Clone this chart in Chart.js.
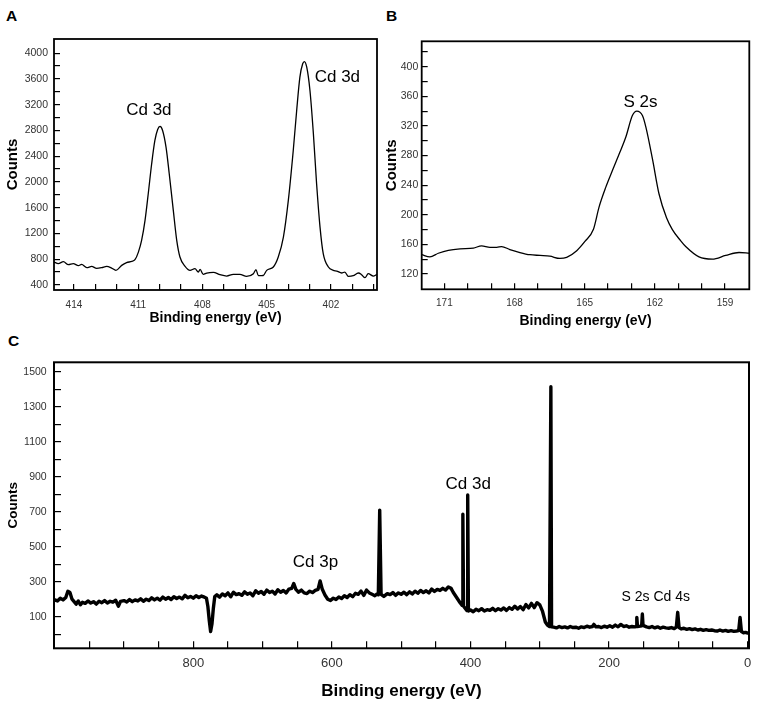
<!DOCTYPE html>
<html><head><meta charset="utf-8">
<script src="https://cdn.jsdelivr.net/npm/chart.js@4"></script>
<style>
body{margin:0;background:#fff;width:759px;height:708px;position:relative;overflow:hidden;font-family:"Liberation Sans",Arial,sans-serif}
canvas{position:absolute}
.lbl{position:absolute;font-weight:bold;font-size:15.5px;line-height:15.5px;color:#000}
</style></head><body>
<div class="lbl" style="left:6px;top:8px">A</div>
<div class="lbl" style="left:386px;top:8px">B</div>
<div class="lbl" style="left:8px;top:333px">C</div>
<canvas id="cA" width="380" height="330" style="left:0;top:0"></canvas>
<canvas id="cB" width="379" height="330" style="left:380px;top:0"></canvas>
<canvas id="cC" width="759" height="378" style="left:0;top:330px"></canvas>
<script>
// ---------- Panel A : Cd 3d high resolution ----------
const aEnergy = [414.93,414.73,414.49,414.26,414.03,413.79,413.64,413.40,413.17,412.94,412.70,412.47,412.24,412.04,411.77,411.54,411.30,411.15,410.99,410.84,
410.68,410.53,410.37,410.22,410.09,409.98,409.86,409.70,409.55,409.36,409.20,409.05,408.81,408.58,408.35,408.19,408.11,407.96,407.80,407.49,
407.18,406.87,406.56,406.25,405.94,405.62,405.50,405.39,405.16,405.00,404.69,404.46,404.22,403.99,403.76,403.60,403.45,403.32,403.24,403.13,
402.98,402.82,402.67,402.51,402.36,402.12,401.89,401.73,401.50,401.35,401.19,400.96,400.72,400.57,400.41,400.26,400.02,399.87];
const aCounts = [755,729,760,713,729,698,718,667,687,656,667,687,661,625,703,745,765,791,909,1091,
1402,1816,2282,2644,2815,2861,2799,2540,2127,1557,1091,832,687,625,651,599,640,563,584,594,
558,537,563,563,532,573,636,542,545,625,677,832,1142,1712,2488,3110,3627,3835,3870,3782,
3420,2748,1971,1297,884,677,625,615,584,599,532,542,584,558,511,573,537,558];
const aXTicks = [400,401,402,403,404,405,406,407,408,409,410,411,412,413,414];
const aXLabels = [414,411,408,405,402];
const aYTicks = [400,600,800,1000,1200,1400,1600,1800,2000,2200,2400,2600,2800,3000,3200,3400,3600,3800,4000];
const aYLabels = [400,800,1200,1600,2000,2400,2800,3200,3600,4000];
const aNoteText = ['Cd 3d','Cd 3d'];
const aNoteX = [410.5, 401.7];
const aNoteY = [3110, 3622];

// ---------- Panel B : S 2s ----------
const bEnergy = [171.97,171.62,171.26,170.83,170.33,169.76,169.41,169.05,168.76,168.55,168.2,167.77,167.34,166.91,166.49,166.06,165.77,165.34,164.99,164.63,
164.38,164.1,163.81,163.5,163.24,162.96,162.77,162.53,162.38,162.1,161.82,161.5,161.25,160.9,160.68,160.11,159.54,158.97,158.4,157.96];
const bCounts = [146,143,148,152,154,155,158,156,156,157,153,149,146,145,144,141,142.5,151.5,164,180,
211,237,260,284,305,334,340,334,318,275,228,196,180,165,157,143,140,145,149,148];
const bXTicks = [159,160,161,162,163,164,165,166,167,168,169,170,171];
const bXLabels = [171,168,165,162,159];
const bYTicks = [120,140,160,180,200,220,240,260,280,300,320,340,360,380,400,420];
const bYLabels = [120,160,200,240,280,320,360,400];
const bNoteText = ['S 2s'];
const bNoteX = [162.61];
const bNoteY = [352];

// ---------- Panel C : survey ----------
const cEnergy = [1001,996,992,988,984,981,978,975,972,969,966,963,960,956,952,948,944,940,936,932,
928,924,920,916,912,908,905,900,896,892,888,884,880,876,872,868,864,860,856,852,
848,844,840,836,832,828,824,820,816,812,808,804,800,796,792,788,784,781,779,777,
775,773,771,769,766,762,758,754,750,746,742,738,734,730,726,722,718,714,710,706,
702,698,694,690,686,682,678,674,670,666,662,658,655,652,648,644,640,636,632,628,
624,620,617,614,610,606,602,598,594,590,586,582,578,574,570,566,562,558,554,550,
546,542,538,535,533,531,529,525,520,516,512,508,504,500,496,492,488,484,480,476,
472,468,464,460,456,452,448,444,440,436,432,428,425,420,415,412,411,410,407,405,
404,403,400,396,392,388,384,380,376,372,368,364,360,356,352,348,344,340,336,332,
328,324,320,316,312,308,304,300,296,292,289,286,284,283,280,276,272,268,264,260,
256,252,248,244,240,236,232,228,224,222,219,215,211,207,203,199,195,191,187,183,
179,175,171,167,163,161,160,159,155,153,152,151,146,142,138,134,130,126,122,118,
114,110,106,103,101,99,96,92,88,84,80,76,72,68,64,60,56,52,48,44,
40,36,32,28,24,20,16,13,11,9,6,3,0,-2];
const cCounts = [198,190,205,196,210,245,238,200,186,172,190,168,182,176,190,178,186,172,188,180,
192,178,188,183,194,160,188,192,184,198,186,196,190,202,188,200,192,208,196,206,
194,212,200,210,198,214,204,212,202,222,208,216,206,220,210,218,212,205,160,80,
15,60,150,215,225,212,230,220,236,214,240,226,232,222,242,228,236,220,248,234,
244,228,252,238,246,230,254,240,250,236,258,262,290,256,240,252,236,232,246,238,
250,256,304,258,224,200,192,206,198,212,204,220,210,226,214,234,228,246,222,252,
236,228,220,230,225,709,228,216,232,226,238,222,236,228,240,226,242,230,246,234,
250,238,248,236,258,244,256,250,262,252,270,262,240,210,180,165,685,160,145,135,
795,132,138,128,142,134,146,132,140,136,148,134,146,138,150,136,152,142,160,144,
158,140,170,150,176,152,180,168,130,70,52,44,1414,42,40,36,44,38,42,36,
44,38,40,34,42,38,46,40,44,56,42,44,38,46,40,48,40,52,42,56,
44,48,40,44,42,44,96,44,46,48,115,50,42,38,44,36,42,34,40,36,
34,38,32,40,125,38,30,34,28,32,26,30,24,28,22,26,22,24,20,18,
24,18,22,16,20,16,18,20,96,15,8,10,6,8];
const cXTicks = [0,50,100,150,200,250,300,350,400,450,500,550,600,650,700,750,800,850,900,950];
const cXLabels = [0,200,400,600,800];
const cYTicks = [0,100,200,300,400,500,600,700,800,900,1000,1100,1200,1300,1400,1500];
const cYLabels = [100,300,500,700,900,1100,1300,1500];
const cNoteText = ['Cd 3p','Cd 3d','S 2s Cd 4s'];
const cNoteX = [623.7, 403.2, 132.6];
const cNoteY = [411, 856, 214];

const FONT = "'Liberation Sans', Arial, sans-serif";

const framePlugin = {
  id: 'frame',
  afterDraw(chart, args, o) {
    const {ctx, chartArea: a} = chart;
    ctx.save();
    ctx.strokeStyle = '#000';
    ctx.lineWidth = o.lw;
    ctx.strokeRect(a.left, a.top, a.right - a.left, a.bottom - a.top);
    const xs = chart.scales.x, ys = chart.scales.y;
    ctx.fillStyle = '#000';
    ctx.textAlign = 'center';
    ctx.textBaseline = 'middle';
    ctx.font = o.noteFont;
    o.text.forEach((t, i) => {
      if (o.fonts && o.fonts[i]) ctx.font = o.fonts[i];
      ctx.fillText(t, xs.getPixelForValue(o.x[i]), ys.getPixelForValue(o.y[i]));
    });
    ctx.restore();
  }
};

function axis(o) {
  return {
    type: 'linear', min: o.min, max: o.max, reverse: !!o.reverse,
    afterBuildTicks: ax => { ax.ticks = o.ticks.map(v => ({value: v})); },
    afterFit: ax => { if (o.w != null) ax.width = o.w; if (o.h != null) ax.height = o.h; },
    border: {display: false},
    grid: {drawOnChartArea: false, drawTicks: true, tickLength: o.tl, color: '#000', lineWidth: 1.2},
    ticks: {autoSkip: false, maxRotation: 0, minRotation: 0, padding: o.pad, color: '#333',
      font: {family: FONT, size: o.fs},
      callback: v => o.labels.includes(v) ? String(v) : ''},
    title: {display: true, text: o.title, color: '#000',
      font: {family: FONT, size: o.tfs, weight: 'bold'}, padding: o.tpad}
  };
}

function makeChart(id, xs, ys, lw, smooth, pad, xo, yo, frame) {
  return new Chart(document.getElementById(id), {
    type: 'line',
    data: {datasets: [{
      data: xs.map((x, i) => ({x: x, y: ys[i]})),
      borderColor: '#000', borderWidth: lw, pointRadius: 0, fill: false,
      tension: smooth ? 0.3 : 0, cubicInterpolationMode: smooth ? 'monotone' : 'default',
      borderJoinStyle: 'round', borderCapStyle: 'round'
    }]},
    options: {
      responsive: false, animation: false, devicePixelRatio: 1, events: [],
      layout: {padding: pad},
      plugins: {legend: {display: false}, tooltip: {enabled: false}, frame: frame},
      scales: {x: axis(xo), y: axis(yo)}
    },
    plugins: [framePlugin]
  });
}

makeChart('cA', aEnergy, aCounts, 1.3, true,
  {left: 0, right: 3, top: 39, bottom: 0},
  {min: 399.85, max: 414.93, reverse: true, ticks: aXTicks, labels: aXLabels, h: 40, tl: -6, pad: 15, fs: 10,
   title: 'Binding energy (eV)', tfs: 14, tpad: {top: 0, bottom: 3.3}},
  {min: 320, max: 4220, ticks: aYTicks, labels: aYLabels, w: 54, tl: -6, pad: 12, fs: 10.5,
   title: 'Counts', tfs: 15, tpad: {top: 4.3, bottom: 0}},
  {lw: 1.8, text: aNoteText, x: aNoteX, y: aNoteY, noteFont: '17px ' + FONT});

makeChart('cB', bEnergy, bCounts, 1.3, true,
  {left: 0, right: 9.7, top: 41.3, bottom: 0},
  {min: 157.96, max: 171.97, reverse: true, ticks: bXTicks, labels: bXLabels, h: 40.7, tl: -6, pad: 14, fs: 10,
   title: 'Binding energy (eV)', tfs: 14, tpad: {top: 0, bottom: 0}},
  {min: 99.3, max: 434.3, ticks: bYTicks, labels: bYLabels, w: 41.7, tl: -6, pad: 9.4, fs: 10.5,
   title: 'Counts', tfs: 15, tpad: {top: 2.7, bottom: 0}},
  {lw: 1.8, text: bNoteText, x: bNoteX, y: bNoteY, noteFont: '17px ' + FONT});

makeChart('cC', cEnergy, cCounts, 3.4, false,
  {left: 0, right: 10, top: 32.3, bottom: 0},
  {min: -1.9, max: 1001, reverse: true, ticks: cXTicks, labels: cXLabels, h: 59.7, tl: -7, pad: 14.2, fs: 13,
   title: 'Binding energy (eV)', tfs: 17, tpad: {top: 0, bottom: 6.1}},
  {min: -80.6, max: 1553.7, ticks: cYTicks, labels: cYLabels, w: 54, tl: -7, pad: 14.3, fs: 10.5,
   title: 'Counts', tfs: 13.5, tpad: {top: 5.2, bottom: 0}},
  {lw: 2, text: cNoteText, x: cNoteX, y: cNoteY, noteFont: '17px ' + FONT,
   fonts: ['17px ' + FONT, '17px ' + FONT, '14px ' + FONT]});
</script>
</body></html>
